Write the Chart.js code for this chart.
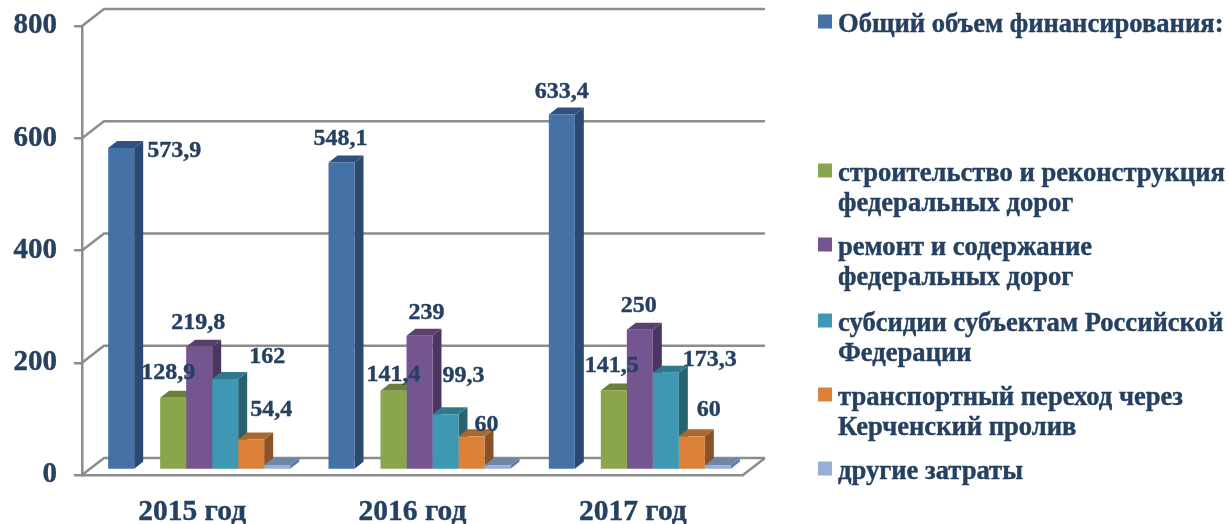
<!DOCTYPE html>
<html>
<head>
<meta charset="utf-8">
<title>Финансирование</title>
<script src="https://cdn.jsdelivr.net/npm/chart.js@4"></script>
<style>
    html, body { margin: 0; padding: 0; background: #fff; }
    canvas { display: block; }
</style>
</head>
<body>
<canvas id="chart" width="1229" height="524"></canvas>
<script>
// Data
const years = ['2015 год', '2016 год', '2017 год'];
const totalFunding = [573.9, 548.1, 633.4];
const spacer = [null, null, null];
const construction = [128.9, 141.4, 141.5];
const maintenance = [219.8, 239, 250];
const subsidies = [162, 99.3, 173.3];
const kerchCrossing = [54.4, 60, 60];
const otherCosts = [8.8, 8.4, 8.6];

const seriesNames = [
    ['Общий объем финансирования:'],
    [],
    ['строительство и реконструкция', 'федеральных дорог'],
    ['ремонт и содержание', 'федеральных дорог'],
    ['субсидии субъектам Российской', 'Федерации'],
    ['транспортный переход через', 'Керченский пролив'],
    ['другие затраты']
];
const seriesValues = [totalFunding, spacer, construction, maintenance, subsidies, kerchCrossing, otherCosts];

// front, side, top face colours
const faces = [
    ['#4472a6', '#2b4a72', '#2f5080'],
    ['#fff', '#fff', '#fff'],
    ['#8aa64d', '#66793a', '#6a7f3a'],
    ['#74558f', '#4a3660', '#5a4070'],
    ['#3f98b3', '#28626f', '#2e7a8c'],
    ['#dc8139', '#8a5226', '#a9682f'],
    ['#97aed6', '#5d7aa0', '#6f86a8']
];

const textColor = '#254061';
const lineColor = '#8c8c8c';
const serif = "'Liberation Serif', serif";
const textWeight = 0.4;

// The bars stand a little behind the front plane of the box
const barShift = { x: 7, y: -5 };
const barDepth = { x: 9, y: -7 };
const wallDepth = { x: 22, y: -17 };

// Hand-placed value labels: dx, dy from the top middle of each bar, [series][year]
const labelOffsets = {
    0: [[53, 3], [-1, -24], [0, -23]],
    2: [[-5, -25], [0, -16], [-2, -25]],
    3: [[-1, -24], [7, -23], [-1, -24]],
    4: [[42, -22], [18, -38], [44, -13]],
    5: [[20, -30], [15, -12], [17, -27]]
};

// Legend rows, baseline y of the first text line
const legendRows = [32, 106, 181, 255, 331, 405, 479];

function drawText(ctx, text, x, y) {
    ctx.fillText(text, x, y);
    ctx.strokeText(text, x, y);
}

const box3d = {
    id: 'box3d',
    beforeDatasetsDraw(chart) {
        const { ctx, scales: { x, y } } = chart;
        ctx.save();
        ctx.strokeStyle = lineColor;
        ctx.lineWidth = 2.5;
        y.ticks.forEach((t) => {
            const py = y.getPixelForValue(t.value);
            ctx.beginPath();
            ctx.moveTo(x.left, py);
            ctx.lineTo(x.left + wallDepth.x, py + wallDepth.y);
            ctx.lineTo(x.right + wallDepth.x, py + wallDepth.y);
            ctx.stroke();
        });
        const py0 = y.getPixelForValue(0);
        ctx.beginPath();
        ctx.moveTo(x.right, py0);
        ctx.lineTo(x.right + wallDepth.x, py0 + wallDepth.y);
        ctx.stroke();

        // Side and top faces go first, in series order, so the fronts cover them
        ctx.translate(barShift.x, barShift.y);
        seriesValues.forEach((values, s) => {
            const c = faces[s];
            chart.getDatasetMeta(s).data.forEach((bar, i) => {
                if (values[i] == null) return;
                const half = bar.width / 2;
                const l = bar.x - half, r = bar.x + half;
                const dx = barDepth.x, dy = barDepth.y;
                ctx.fillStyle = c[1];
                ctx.beginPath();
                ctx.moveTo(r, bar.y);
                ctx.lineTo(r + dx, bar.y + dy);
                ctx.lineTo(r + dx, bar.base + dy);
                ctx.lineTo(r, bar.base);
                ctx.closePath();
                ctx.fill();
                ctx.fillStyle = c[2];
                ctx.beginPath();
                ctx.moveTo(l, bar.y);
                ctx.lineTo(l + dx, bar.y + dy);
                ctx.lineTo(r + dx, bar.y + dy);
                ctx.lineTo(r, bar.y);
                ctx.closePath();
                ctx.fill();
            });
        });
        ctx.restore();
    },
    beforeDatasetDraw(chart) {
        chart.ctx.save();
        chart.ctx.translate(barShift.x, barShift.y);
    },
    afterDatasetDraw(chart) {
        chart.ctx.restore();
    },
    afterDatasetsDraw(chart) {
        const { ctx } = chart;
        ctx.save();
        ctx.fillStyle = textColor;
        ctx.strokeStyle = textColor;
        ctx.lineWidth = textWeight;
        ctx.font = 'bold 24px ' + serif;
        ctx.textAlign = 'center';
        ctx.textBaseline = 'middle';
        Object.keys(labelOffsets).forEach((s) => {
            const meta = chart.getDatasetMeta(Number(s));
            meta.data.forEach((bar, i) => {
                const text = String(seriesValues[s][i]).replace('.', ',');
                const off = labelOffsets[s][i];
                drawText(ctx, text, bar.x + barShift.x + off[0], bar.y + barShift.y + off[1]);
            });
        });
        ctx.restore();
    },
    afterDraw(chart) {
        const { ctx } = chart;
        ctx.save();
        ctx.font = 'bold 26.6px ' + serif;
        ctx.textBaseline = 'alphabetic';
        ctx.strokeStyle = textColor;
        ctx.lineWidth = textWeight;
        seriesNames.forEach((lines, i) => {
            if (!lines.length) return;
            ctx.fillStyle = faces[i][0];
            ctx.fillRect(818, legendRows[i] - 17.5, 14, 14);
            ctx.fillStyle = textColor;
            lines.forEach((line, n) => drawText(ctx, line, 838, legendRows[i] + n * 29.5));
        });
        ctx.restore();
    }
};

const ctx = document.getElementById('chart').getContext('2d');
new Chart(ctx, {
    type: 'bar',
    data: {
        labels: years,
        datasets: seriesValues.map((values, i) => ({
            label: seriesNames[i].join(' '),
            data: values,
            backgroundColor: faces[i][0],
            clip: false
        }))
    },
    options: {
        responsive: false,
        animation: false,
        barPercentage: 1,
        categoryPercentage: 0.826,
        layout: { padding: { top: 26, right: 486, left: 0, bottom: 0 } },
        plugins: { legend: { display: false }, tooltip: { enabled: false } },
        scales: {
            x: {
                afterFit(scale) {
                    scale.height = 49;
                    scale.paddingLeft = 0;
                    scale.paddingRight = 0;
                },
                grid: { display: false },
                border: { display: true, color: lineColor, width: 2.5 },
                ticks: {
                    color: textColor,
                    padding: 12,
                    textStrokeColor: textColor,
                    textStrokeWidth: textWeight,
                    font: { family: serif, size: 29.5, weight: 'bold' }
                }
            },
            y: {
                min: 0,
                max: 800,
                afterFit(scale) {
                    scale.width = 82;
                    scale.paddingTop = 0;
                    scale.paddingBottom = 0;
                },
                grid: { drawOnChartArea: false, color: lineColor, lineWidth: 2.5, tickLength: 8 },
                border: { display: true, color: lineColor, width: 2.5 },
                ticks: {
                    stepSize: 200,
                    color: textColor,
                    padding: 17,
                    textStrokeColor: textColor,
                    textStrokeWidth: textWeight,
                    font: { family: serif, size: 29, weight: 'bold' }
                }
            }
        }
    },
    plugins: [box3d]
});
</script>
</body>
</html>
